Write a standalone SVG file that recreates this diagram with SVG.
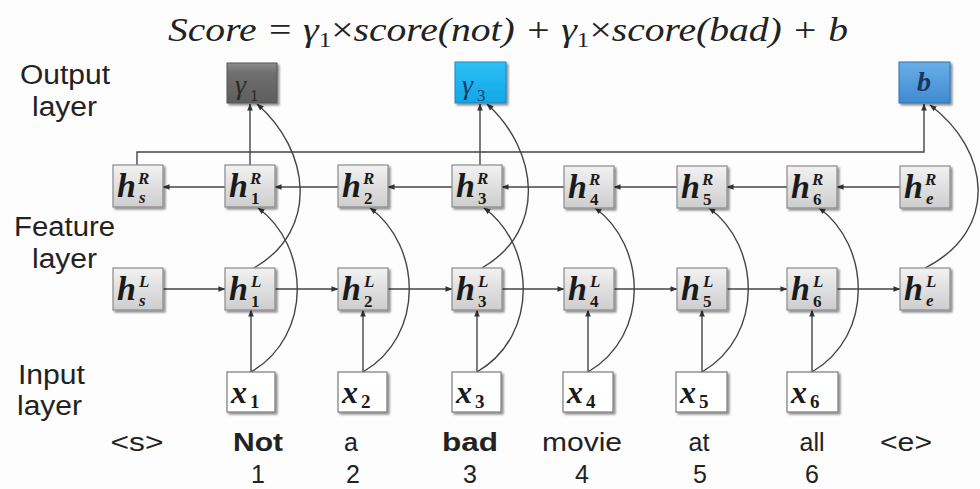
<svg xmlns="http://www.w3.org/2000/svg" width="980" height="489" viewBox="0 0 980 489">
  <defs>
    <linearGradient id="gH" x1="0" y1="0" x2="0" y2="1">
      <stop offset="0" stop-color="#f2f2f2"/>
      <stop offset="1" stop-color="#cdcdcd"/>
    </linearGradient>
    <linearGradient id="gGray" x1="0" y1="0" x2="0" y2="1">
      <stop offset="0" stop-color="#8c8c8c"/>
      <stop offset="0.25" stop-color="#6f6f6f"/>
      <stop offset="1" stop-color="#5e5e5e"/>
    </linearGradient>
    <linearGradient id="gCyan" x1="0" y1="0" x2="0" y2="1">
      <stop offset="0" stop-color="#2ec0f5"/>
      <stop offset="1" stop-color="#10a6e6"/>
    </linearGradient>
    <linearGradient id="gBlue" x1="0" y1="0" x2="0" y2="1">
      <stop offset="0" stop-color="#6aaee6"/>
      <stop offset="1" stop-color="#3f8ad4"/>
    </linearGradient>
    <filter id="shadow" x="-20%" y="-20%" width="150%" height="150%">
      <feGaussianBlur in="SourceAlpha" stdDeviation="1.2"/>
      <feOffset dx="2" dy="2" result="b"/>
      <feComponentTransfer><feFuncA type="linear" slope="0.45"/></feComponentTransfer>
      <feMerge><feMergeNode/><feMergeNode in="SourceGraphic"/></feMerge>
    </filter>
    <marker id="arr" viewBox="0 0 8 8" refX="7.5" refY="4" markerWidth="7" markerHeight="7" markerUnits="userSpaceOnUse" orient="auto">
      <path d="M0,0.8 L8,4 L0,7.2 z" fill="#333"/>
    </marker>
  </defs>
  <style>
    .lbl { font-family: "Liberation Sans", Arial, sans-serif; font-size: 27px; fill: #222; }
    .word { font-family: "Liberation Sans", Arial, sans-serif; font-size: 25px; fill: #222; text-anchor: middle; }
    .title { font-family: "Liberation Serif", "DejaVu Serif", serif; font-style: italic; font-size: 33px; fill: #222; }
    .hbox { fill: url(#gH); stroke: #8a8a8a; stroke-width: 1.2; }
    .xbox { fill: #ffffff; stroke: #7a7a7a; stroke-width: 1.2; }
    .hm { font-family: "Liberation Serif", "DejaVu Serif", serif; font-weight: bold; font-style: italic; fill: #1a1a1a; }
    .h { font-size: 34px; }
    .sup { font-size: 17px; }
    .up { font-style: normal; }
    .xm { font-family: "Liberation Serif", "DejaVu Serif", serif; font-weight: bold; font-style: italic; font-size: 32px; fill: #1a1a1a; }
    .xs { font-family: "Liberation Serif", "DejaVu Serif", serif; font-weight: bold; font-size: 19px; fill: #1a1a1a; }
    .om { font-family: "Liberation Serif", "DejaVu Serif", serif; font-style: italic; font-size: 28px; }
    .os { font-family: "Liberation Serif", "DejaVu Serif", serif; font-size: 17px; }
    .ts { font-family: "Liberation Serif", "DejaVu Serif", serif; font-style: normal; font-size: 21px; }
    .edge { fill: none; stroke: #444; stroke-width: 1.4; }
  </style>

  <rect width="980" height="489" fill="#fdfdfd"/>

  <!-- formula -->
  <text class="title" x="168" y="41" textLength="680" lengthAdjust="spacingAndGlyphs">Score = γ<tspan class="ts" dy="6">1</tspan><tspan dy="-6" font-style="normal">×</tspan>score(not) + γ<tspan class="ts" dy="6">1</tspan><tspan dy="-6" font-style="normal">×</tspan>score(bad) + b</text>

  <!-- layer captions -->
  <g id="captions">
    <text class="lbl" x="20" y="84" textLength="90" lengthAdjust="spacingAndGlyphs">Output</text>
    <text class="lbl" x="32" y="116" textLength="65" lengthAdjust="spacingAndGlyphs">layer</text>
    <text class="lbl" x="14" y="236" textLength="101" lengthAdjust="spacingAndGlyphs">Feature</text>
    <text class="lbl" x="32" y="268" textLength="65" lengthAdjust="spacingAndGlyphs">layer</text>
    <text class="lbl" x="18" y="384" textLength="67" lengthAdjust="spacingAndGlyphs">Input</text>
    <text class="lbl" x="17" y="415" textLength="65" lengthAdjust="spacingAndGlyphs">layer</text>
  </g>

  <!-- connectors -->
  <g id="connectors">
    <!-- right-to-left chain -->
    <line class="edge" x1="225" y1="187" x2="163" y2="187" marker-end="url(#arr)"/>
    <line class="edge" x1="338" y1="187" x2="275" y2="187" marker-end="url(#arr)"/>
    <line class="edge" x1="452" y1="187" x2="388" y2="187" marker-end="url(#arr)"/>
    <line class="edge" x1="564" y1="187" x2="502" y2="187" marker-end="url(#arr)"/>
    <line class="edge" x1="677" y1="187" x2="614" y2="187" marker-end="url(#arr)"/>
    <line class="edge" x1="787" y1="187" x2="727" y2="187" marker-end="url(#arr)"/>
    <line class="edge" x1="900" y1="187" x2="837" y2="187" marker-end="url(#arr)"/>
    <!-- left-to-right chain -->
    <line class="edge" x1="163" y1="289" x2="225" y2="289" marker-end="url(#arr)"/>
    <line class="edge" x1="275" y1="289" x2="338" y2="289" marker-end="url(#arr)"/>
    <line class="edge" x1="388" y1="289" x2="452" y2="289" marker-end="url(#arr)"/>
    <line class="edge" x1="502" y1="289" x2="564" y2="289" marker-end="url(#arr)"/>
    <line class="edge" x1="614" y1="289" x2="677" y2="289" marker-end="url(#arr)"/>
    <line class="edge" x1="727" y1="289" x2="787" y2="289" marker-end="url(#arr)"/>
    <line class="edge" x1="837" y1="289" x2="900" y2="289" marker-end="url(#arr)"/>
    <!-- inputs to left states -->
    <line class="edge" x1="251" y1="372" x2="251" y2="310" marker-end="url(#arr)"/>
    <line class="edge" x1="363" y1="372" x2="363" y2="310" marker-end="url(#arr)"/>
    <line class="edge" x1="477" y1="372" x2="477" y2="310" marker-end="url(#arr)"/>
    <line class="edge" x1="588" y1="372" x2="588" y2="310" marker-end="url(#arr)"/>
    <line class="edge" x1="702" y1="372" x2="702" y2="310" marker-end="url(#arr)"/>
    <line class="edge" x1="812" y1="372" x2="812" y2="310" marker-end="url(#arr)"/>
    <!-- inputs to right states -->
    <path class="edge" d="M251,372 C314,335 309,245 258,208" marker-end="url(#arr)"/>
    <path class="edge" d="M363,372 C426,335 421,245 370,208" marker-end="url(#arr)"/>
    <path class="edge" d="M477,372 C540,335 535,245 484,208" marker-end="url(#arr)"/>
    <path class="edge" d="M588,372 C651,335 646,245 595,208" marker-end="url(#arr)"/>
    <path class="edge" d="M702,372 C765,335 760,245 709,208" marker-end="url(#arr)"/>
    <path class="edge" d="M812,372 C875,335 870,245 819,208" marker-end="url(#arr)"/>
    <!-- states to outputs -->
    <line class="edge" x1="250" y1="165" x2="250" y2="104" marker-end="url(#arr)"/>
    <path class="edge" d="M254,268 C320,230 310,150 257,104" marker-end="url(#arr)"/>
    <line class="edge" x1="480" y1="165" x2="480" y2="104" marker-end="url(#arr)"/>
    <path class="edge" d="M482,268 C548,230 538,150 487,104" marker-end="url(#arr)"/>
    <polyline class="edge" points="137,165 137,152 924,152 924,104" marker-end="url(#arr)"/>
    <path class="edge" d="M925,268 C1000,230 990,150 930,105" marker-end="url(#arr)"/>
  </g>

  <!-- output layer -->
  <g id="out-gamma1">
    <rect x="227" y="63" width="50" height="40" fill="url(#gGray)" stroke="#555" stroke-width="1" filter="url(#shadow)"/>
    <text class="om" x="235" y="94" fill="#2a2a2a">γ</text><text class="os" x="250" y="101" fill="#2a2a2a">1</text>
  </g>
  <g id="out-gamma3">
    <rect x="455" y="62" width="51" height="41" fill="url(#gCyan)" stroke="#1588c0" stroke-width="1" filter="url(#shadow)"/>
    <text class="om" x="462" y="94" fill="#173a66">γ</text><text class="os" x="477" y="101" fill="#173a66">3</text>
  </g>
  <g id="out-b">
    <rect x="899" y="62" width="51" height="41" fill="url(#gBlue)" stroke="#2f6fae" stroke-width="1" filter="url(#shadow)"/>
    <text class="om" x="917" y="91" fill="#1b3560" font-weight="bold">b</text>
  </g>

  <!-- backward states -->
  <g id="hR-s"><rect class="hbox" x="113" y="165" width="50" height="42" filter="url(#shadow)"/><text class="hm h" x="117" y="197">h</text><text class="hm sup" x="138" y="184">R</text><text class="hm sup" x="139" y="203">s</text></g>
  <g id="hR-1"><rect class="hbox" x="225" y="165" width="50" height="42" filter="url(#shadow)"/><text class="hm h" x="229" y="197">h</text><text class="hm sup" x="250" y="184">R</text><text class="hm sup up" x="251" y="204">1</text></g>
  <g id="hR-2"><rect class="hbox" x="338" y="165" width="50" height="42" filter="url(#shadow)"/><text class="hm h" x="342" y="197">h</text><text class="hm sup" x="363" y="184">R</text><text class="hm sup up" x="364" y="204">2</text></g>
  <g id="hR-3"><rect class="hbox" x="452" y="165" width="50" height="42" filter="url(#shadow)"/><text class="hm h" x="456" y="197">h</text><text class="hm sup" x="477" y="184">R</text><text class="hm sup up" x="478" y="204">3</text></g>
  <g id="hR-4"><rect class="hbox" x="564" y="166" width="50" height="42" filter="url(#shadow)"/><text class="hm h" x="568" y="198">h</text><text class="hm sup" x="589" y="185">R</text><text class="hm sup up" x="590" y="205">4</text></g>
  <g id="hR-5"><rect class="hbox" x="677" y="166" width="50" height="42" filter="url(#shadow)"/><text class="hm h" x="681" y="198">h</text><text class="hm sup" x="702" y="185">R</text><text class="hm sup up" x="703" y="205">5</text></g>
  <g id="hR-6"><rect class="hbox" x="787" y="166" width="50" height="42" filter="url(#shadow)"/><text class="hm h" x="791" y="198">h</text><text class="hm sup" x="812" y="185">R</text><text class="hm sup up" x="813" y="205">6</text></g>
  <g id="hR-e"><rect class="hbox" x="900" y="166" width="50" height="42" filter="url(#shadow)"/><text class="hm h" x="904" y="198">h</text><text class="hm sup" x="925" y="185">R</text><text class="hm sup" x="926" y="204">e</text></g>

  <!-- forward states -->
  <g id="hL-s"><rect class="hbox" x="113" y="268" width="50" height="42" filter="url(#shadow)"/><text class="hm h" x="117" y="300">h</text><text class="hm sup" x="139" y="287">L</text><text class="hm sup" x="139" y="306">s</text></g>
  <g id="hL-1"><rect class="hbox" x="225" y="268" width="50" height="42" filter="url(#shadow)"/><text class="hm h" x="229" y="300">h</text><text class="hm sup" x="251" y="287">L</text><text class="hm sup up" x="251" y="307">1</text></g>
  <g id="hL-2"><rect class="hbox" x="338" y="268" width="50" height="42" filter="url(#shadow)"/><text class="hm h" x="342" y="300">h</text><text class="hm sup" x="364" y="287">L</text><text class="hm sup up" x="364" y="307">2</text></g>
  <g id="hL-3"><rect class="hbox" x="452" y="268" width="50" height="42" filter="url(#shadow)"/><text class="hm h" x="456" y="300">h</text><text class="hm sup" x="478" y="287">L</text><text class="hm sup up" x="478" y="307">3</text></g>
  <g id="hL-4"><rect class="hbox" x="564" y="268" width="50" height="42" filter="url(#shadow)"/><text class="hm h" x="568" y="300">h</text><text class="hm sup" x="590" y="287">L</text><text class="hm sup up" x="590" y="307">4</text></g>
  <g id="hL-5"><rect class="hbox" x="677" y="268" width="50" height="42" filter="url(#shadow)"/><text class="hm h" x="681" y="300">h</text><text class="hm sup" x="703" y="287">L</text><text class="hm sup up" x="703" y="307">5</text></g>
  <g id="hL-6"><rect class="hbox" x="787" y="268" width="50" height="42" filter="url(#shadow)"/><text class="hm h" x="791" y="300">h</text><text class="hm sup" x="813" y="287">L</text><text class="hm sup up" x="813" y="307">6</text></g>
  <g id="hL-e"><rect class="hbox" x="900" y="268" width="50" height="42" filter="url(#shadow)"/><text class="hm h" x="904" y="300">h</text><text class="hm sup" x="926" y="287">L</text><text class="hm sup" x="926" y="306">e</text></g>

  <!-- inputs -->
  <g id="x1"><rect class="xbox" x="227" y="372" width="48" height="40" filter="url(#shadow)"/><text class="xm" x="231" y="403">x</text><text class="xs" x="250" y="408">1</text></g>
  <g id="x2"><rect class="xbox" x="338" y="372" width="49" height="40" filter="url(#shadow)"/><text class="xm" x="342" y="403">x</text><text class="xs" x="361" y="408">2</text></g>
  <g id="x3"><rect class="xbox" x="452" y="372" width="49" height="40" filter="url(#shadow)"/><text class="xm" x="456" y="403">x</text><text class="xs" x="475" y="408">3</text></g>
  <g id="x4"><rect class="xbox" x="563" y="372" width="50" height="40" filter="url(#shadow)"/><text class="xm" x="567" y="403">x</text><text class="xs" x="586" y="408">4</text></g>
  <g id="x5"><rect class="xbox" x="676" y="372" width="51" height="40" filter="url(#shadow)"/><text class="xm" x="680" y="403">x</text><text class="xs" x="699" y="408">5</text></g>
  <g id="x6"><rect class="xbox" x="787" y="372" width="51" height="40" filter="url(#shadow)"/><text class="xm" x="791" y="403">x</text><text class="xs" x="810" y="408">6</text></g>

  <!-- sentence tokens and positions -->
  <g id="tokens">
    <text class="word" x="137" y="451" textLength="53" lengthAdjust="spacingAndGlyphs">&lt;s&gt;</text>
    <text class="word" x="258" y="451" font-weight="bold" textLength="50" lengthAdjust="spacingAndGlyphs">Not</text>
    <text class="word" x="351" y="451">a</text>
    <text class="word" x="470" y="451" font-weight="bold" fill="#2b7bb9" textLength="56" lengthAdjust="spacingAndGlyphs">bad</text>
    <text class="word" x="582" y="451" textLength="80" lengthAdjust="spacingAndGlyphs">movie</text>
    <text class="word" x="699" y="451">at</text>
    <text class="word" x="812" y="451">all</text>
    <text class="word" x="906" y="451" textLength="52" lengthAdjust="spacingAndGlyphs">&lt;e&gt;</text>
    <text class="word" x="258" y="483">1</text>
    <text class="word" x="353" y="483">2</text>
    <text class="word" x="470" y="483">3</text>
    <text class="word" x="582" y="483">4</text>
    <text class="word" x="700" y="483">5</text>
    <text class="word" x="812" y="483">6</text>
  </g>
</svg>
